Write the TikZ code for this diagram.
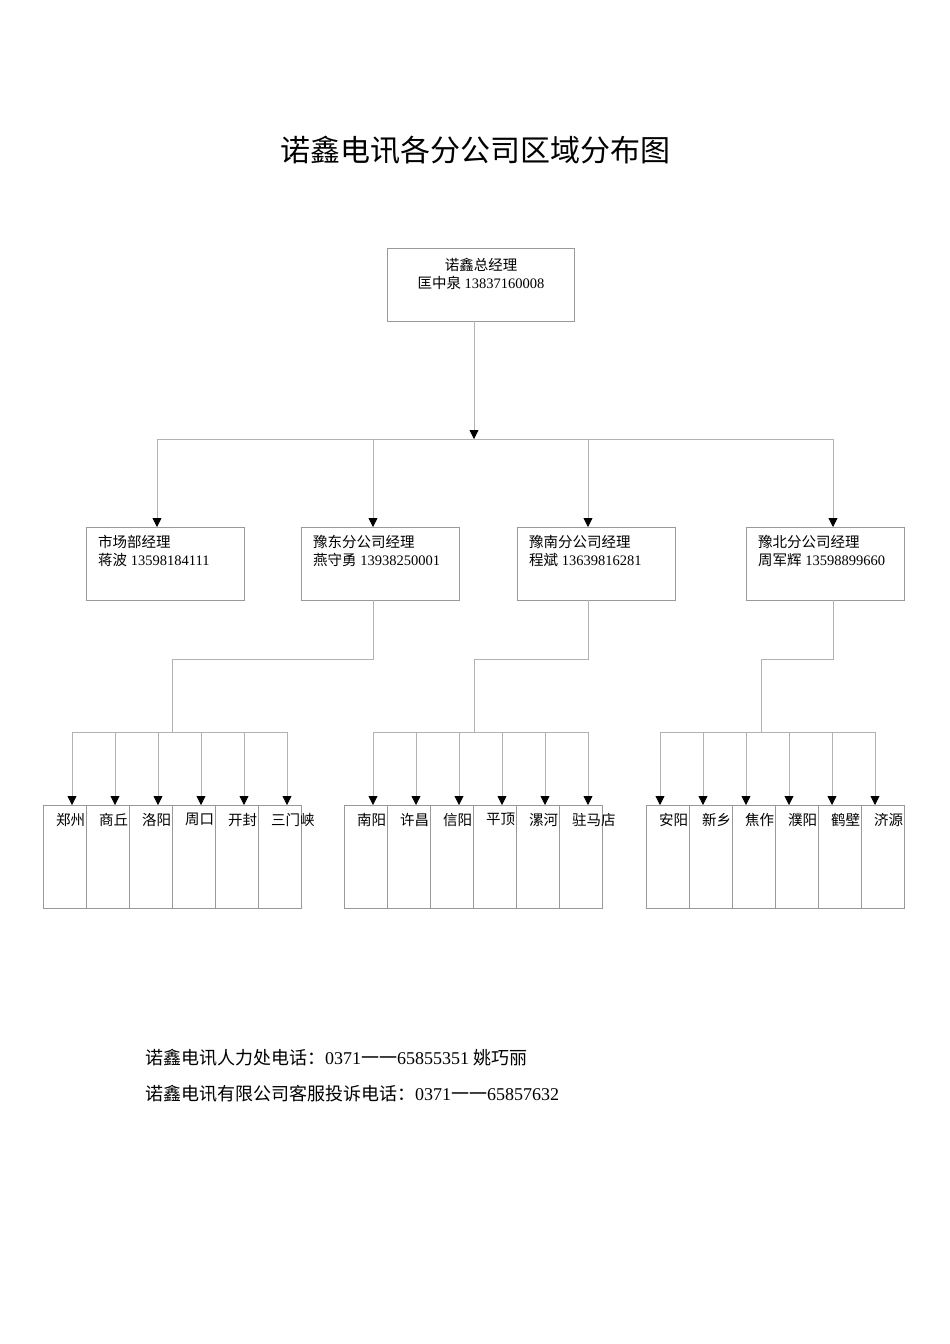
\documentclass[tikz,border=0pt]{standalone}
\usepackage{fontspec}
\setmainfont{Liberation Serif}
\newfontfamily\cjk{Noto Sans CJK SC}
\usetikzlibrary{arrows.meta}
\begin{document}
\begin{tikzpicture}[x=1pt,y=-1pt,
  ln/.style={draw=black!30,line width=0.8pt},
  arr/.style={ln,-{Triangle[width=9pt,length=9pt,fill=black,color=black]}},
  bx/.style={draw=black!40,line width=0.8pt},
  txt/.style={font=\fontsize{14.5}{18}\selectfont,inner sep=0pt}]
\useasboundingbox (0,0) rectangle (950,1344);
\node[font=\cjk\fontsize{30}{33}\selectfont] (title) at (475,150) {诺鑫电讯各分公司区域分布图};
% top
\draw[bx] (387,248) rectangle (574,321);
\node[txt,align=center] (top) at (481,274) {{\cjk 诺鑫总经理}\\{\cjk 匡中泉} 13837160008};
\coordinate (topb) at (474,321);
\coordinate (hub) at (474,439);
\draw[arr] (topb) -- (hub);
\draw[ln] (157,439) -- (833,439);
% level 2
\foreach \x/\n/\a/\b in {86/m/市场部经理/{{\cjk 蒋波} 13598184111},301/e/豫东分公司经理/{{\cjk 燕守勇} 13938250001},517/s/豫南分公司经理/{{\cjk 程斌} 13639816281},746/n/豫北分公司经理/{{\cjk 周军辉} 13598899660}}{
  \draw[bx] (\x,527) rectangle ++(158,73);
  \node[txt,anchor=north west,align=left] (\n) at (\x+12,535) {{\cjk \a}\\\b};
}
\foreach \x in {157,373,588,833}{\draw[arr] (\x,439) -- (\x,527);}
% level 2 to leaf buses
\draw[ln] (373,600) -- (373,659) -- (172,659) -- (172,732);
\draw[ln] (588,600) -- (588,659) -- (474,659) -- (474,732);
\draw[ln] (833,600) -- (833,659) -- (761,659) -- (761,732);
\draw[ln] (72,732) -- (287,732);
\draw[ln] (373,732) -- (588,732);
\draw[ln] (660,732) -- (876,732);
% leaves
\foreach \bx/\ax/\names in {43/72/{郑州,商丘,洛阳,周口,开封,三门峡},344/373/{南阳,许昌,信阳,平顶,漯河,驻马店},646/660/{安阳,新乡,焦作,濮阳,鹤壁,济源}}{
  \foreach \nm [count=\i from 0] in \names {
    \draw[bx] (\bx+\i*43,805) rectangle ++(43,103);
    \draw[arr] (\ax+\i*43,732) -- (\ax+\i*43,805);
    \node[txt,anchor=north west,font=\cjk\fontsize{14.5}{18}\selectfont] (l\bx\i) at (\bx+\i*43+13,813) {\nm};
  }
}
% footer
\node[anchor=west,inner sep=0pt,font=\fontsize{18}{21}\selectfont] (f1) at (145,1058) {{\cjk 诺鑫电讯人力处电话：}0371{\cjk 一一}65855351 {\cjk 姚巧丽}};
\node[anchor=west,inner sep=0pt,font=\fontsize{18}{21}\selectfont] (f2) at (145,1094) {{\cjk 诺鑫电讯有限公司客服投诉电话：}0371{\cjk 一一}65857632};
\end{tikzpicture}
\end{document}
